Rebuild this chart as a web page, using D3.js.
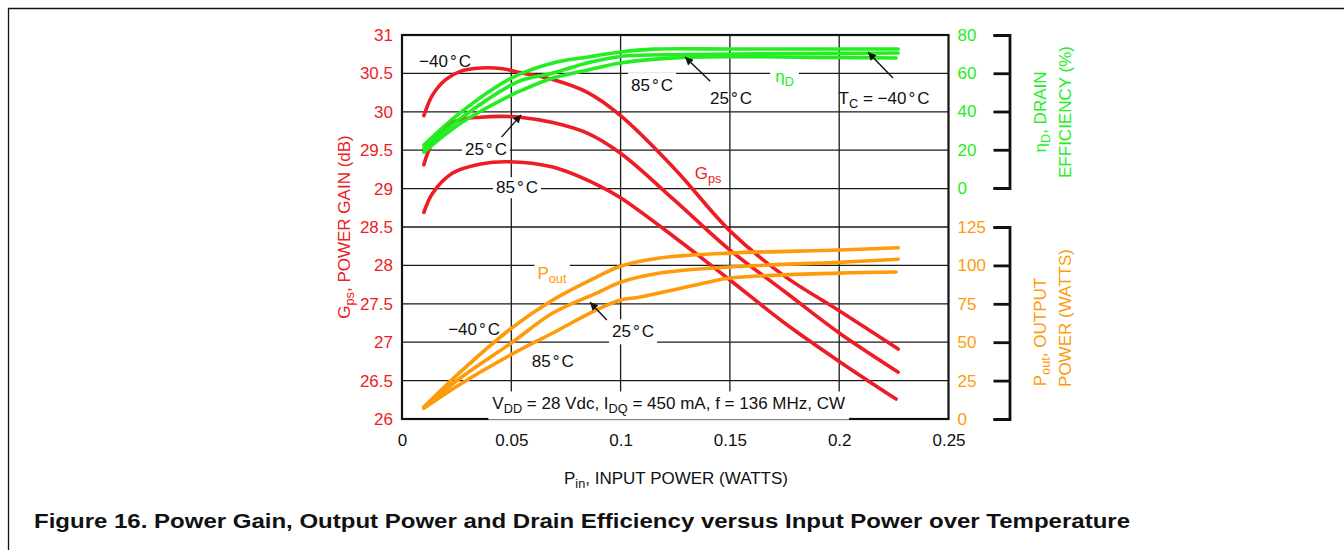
<!DOCTYPE html>
<html><head><meta charset="utf-8">
<script src="https://cdn.jsdelivr.net/npm/d3@7"></script>
<style>
html,body{margin:0;padding:0;background:#fff;}
svg{display:block;font-family:"Liberation Sans",Arial,Helvetica,sans-serif;}
</style></head>
<body><svg id="chart" width="1344" height="550"></svg>
<script>
// ---------- data ----------
const xTicks = [0, 0.05, 0.1, 0.15, 0.2, 0.25];
const xTickLabels = ["0", "0.05", "0.1", "0.15", "0.2", "0.25"];
const gainTicks = [26, 26.5, 27, 27.5, 28, 28.5, 29, 29.5, 30, 30.5, 31];
const gainTickLabels = ["26", "26.5", "27", "27.5", "28", "28.5", "29", "29.5", "30", "30.5", "31"];
const effTicks = [0, 20, 40, 60, 80];
const effTickLabels = ["0", "20", "40", "60", "80"];
const poutTicks = [0, 25, 50, 75, 100, 125];
const poutTickLabels = ["0", "25", "50", "75", "100", "125"];

// Power gain (dB) vs Pin (W)
const gainM40Pin = [0.01, 0.014, 0.02, 0.027, 0.036, 0.046, 0.054, 0.069, 0.085, 0.1, 0.125, 0.15, 0.175, 0.2, 0.227];
const gainM40 =    [29.95, 30.22, 30.42, 30.53, 30.57, 30.56, 30.51, 30.42, 30.25, 29.95, 29.25, 28.45, 27.86, 27.41, 26.91];
const gain25Pin =  [0.01, 0.013, 0.018, 0.027, 0.036, 0.045, 0.054, 0.069, 0.085, 0.1, 0.125, 0.15, 0.175, 0.2, 0.227];
const gain25 =     [29.31, 29.55, 29.77, 29.90, 29.93, 29.94, 29.93, 29.86, 29.72, 29.46, 28.84, 28.20, 27.66, 27.12, 26.61];
const gain85Pin =  [0.01, 0.014, 0.023, 0.036, 0.048, 0.069, 0.09, 0.1, 0.125, 0.15, 0.175, 0.2, 0.226];
const gain85 =     [28.69, 28.94, 29.20, 29.32, 29.35, 29.28, 29.04, 28.88, 28.36, 27.81, 27.25, 26.75, 26.26];

// Drain efficiency (%) vs Pin (W)
const effM40Pin = [0.01, 0.027, 0.05, 0.069, 0.085, 0.1, 0.115, 0.15, 0.2, 0.227];
const effM40 =    [22.5, 39.7, 57.5, 65.4, 68.5, 71.1, 72.6, 72.7, 72.7, 72.7];
const eff25Pin =  [0.01, 0.027, 0.05, 0.055, 0.069, 0.085, 0.1, 0.13, 0.2, 0.227];
const eff25 =     [20.9, 36.6, 53.9, 56.5, 60.1, 65.5, 68.8, 69.8, 70.4, 70.6];
const eff85Pin =  [0.01, 0.027, 0.05, 0.055, 0.069, 0.085, 0.1, 0.129, 0.2, 0.226];
const eff85 =     [18.8, 34.0, 48.6, 51.2, 57.5, 61.7, 65.4, 68.3, 68.2, 68.0];

// Output power (W) vs Pin (W)
const poutM40Pin = [0.01, 0.027, 0.05, 0.069, 0.089, 0.1, 0.118, 0.15, 0.2, 0.227];
const poutM40 =    [7.8, 31, 59, 77.5, 92.4, 99.5, 104.8, 108, 110, 111.5];
const pout25Pin =  [0.01, 0.027, 0.05, 0.069, 0.089, 0.1, 0.118, 0.15, 0.2, 0.227];
const pout25 =     [7.5, 27, 49.5, 69, 82, 89, 95, 99, 102, 104];
const pout85Pin =  [0.01, 0.027, 0.05, 0.069, 0.089, 0.1, 0.109, 0.14, 0.15, 0.2, 0.226];
const pout85 =     [7, 23, 42, 56, 71, 77.5, 79.4, 89, 91.8, 95, 95.7];

// ---------- styles ----------
const RED = "#ee1c24", GREEN = "#22ee22", ORANGE = "#ff9a0a", GRID = "#1a1a1a";

const svg = d3.select("#chart");
const x  = d3.scaleLinear([0, 0.25], [402, 948.5]);
const yG = d3.scaleLinear([26, 31], [419, 35]);
const yE = d3.scaleLinear([0, 80], [188, 35]);
const yP = d3.scaleLinear([0, 125], [419, 227]);

// page frame
svg.append("line").attr("x1", 8).attr("x2", 1344).attr("y1", 8.5).attr("y2", 8.5).attr("stroke", "#111").attr("stroke-width", 1.6);
svg.append("line").attr("x1", 8.5).attr("x2", 8.5).attr("y1", 8).attr("y2", 550).attr("stroke", "#111").attr("stroke-width", 1.3);

// gridlines
const grid = svg.append("g");
grid.selectAll("line.h").data(gainTicks.slice(1, -1)).join("line")
  .attr("x1", x(0)).attr("x2", x(0.25)).attr("y1", d => yG(d)).attr("y2", d => yG(d))
  .attr("stroke", GRID).attr("stroke-width", 1.3);
grid.selectAll("line.v").data(xTicks.slice(1, -1)).join("line")
  .attr("x1", d => x(d)).attr("x2", d => x(d)).attr("y1", yG(26)).attr("y2", yG(31))
  .attr("stroke", GRID).attr("stroke-width", 1.3);

// curves
const curves = svg.append("g").attr("fill", "none").attr("stroke-width", 3.6).attr("stroke-linecap", "round").attr("stroke-linejoin", "round");
function drawSeries(xs, ys, yScale, color) {
  const pts = xs.map((v, i) => [v, ys[i]]);
  curves.append("path").datum(pts)
    .attr("d", d3.line().x(d => x(d[0])).y(d => yScale(d[1])).curve(d3.curveCatmullRom.alpha(0.5)))
    .attr("stroke", color);
}
drawSeries(gainM40Pin, gainM40, yG, RED);
drawSeries(gain25Pin, gain25, yG, RED);
drawSeries(gain85Pin, gain85, yG, RED);
drawSeries(poutM40Pin, poutM40, yP, ORANGE);
drawSeries(pout25Pin, pout25, yP, ORANGE);
drawSeries(pout85Pin, pout85, yP, ORANGE);
drawSeries(eff85Pin, eff85, yE, GREEN);
drawSeries(eff25Pin, eff25, yE, GREEN);
drawSeries(effM40Pin, effM40, yE, GREEN);

// plot frame
svg.append("rect").attr("x", x(0)).attr("y", yG(31)).attr("width", x(0.25) - x(0)).attr("height", yG(26) - yG(31))
  .attr("fill", "none").attr("stroke", "#111").attr("stroke-width", 2.2);

// axes
const FS = 17;
function styleAxis(g, color) {
  g.select(".domain").remove();
  g.selectAll("text").attr("font-size", FS).attr("font-family", "Liberation Sans, Arial, sans-serif").attr("fill", color);
}
svg.append("g").attr("transform", `translate(${x(0)},0)`)
  .call(d3.axisLeft(yG).tickValues(gainTicks).tickFormat((d, i) => gainTickLabels[i]).tickSize(0).tickPadding(9))
  .call(g => styleAxis(g, RED));
svg.append("g").attr("transform", `translate(0,${yG(26)})`)
  .call(d3.axisBottom(x).tickValues(xTicks).tickFormat((d, i) => xTickLabels[i]).tickSize(0).tickPadding(15))
  .call(g => styleAxis(g, "#111"));
svg.append("g").attr("transform", `translate(${x(0.25)},0)`)
  .call(d3.axisRight(yE).tickValues(effTicks).tickFormat((d, i) => effTickLabels[i]).tickSize(0).tickPadding(9))
  .call(g => styleAxis(g, GREEN));
svg.append("g").attr("transform", `translate(${x(0.25)},0)`)
  .call(d3.axisRight(yP).tickValues(poutTicks).tickFormat((d, i) => poutTickLabels[i]).tickSize(0).tickPadding(9))
  .call(g => styleAxis(g, ORANGE));

// brackets on the right
function bracket(scale, ticks) {
  const g = svg.append("g").attr("transform", "translate(1009.5,0)")
    .call(d3.axisLeft(scale).tickValues(ticks).tickFormat("").tickSize(16).tickSizeOuter(16));
  g.selectAll("path,line").attr("stroke", "#111").attr("stroke-width", 2.8);
}
bracket(yE, effTicks);
bracket(yP, poutTicks);

// ---------- labels ----------
const labels = svg.append("g").attr("font-size", FS);
function label(px, py, parts, opt = {}) {
  const g = labels.append("g");
  const t = g.append("text").attr("x", px).attr("y", py)
    .attr("text-anchor", opt.anchor || "middle").attr("fill", opt.color || "#111")
    .attr("font-size", opt.size || FS);
  if (opt.rotate) t.attr("transform", `rotate(-90,${px},${py})`);
  let shift = 0;
  parts.forEach(p => {
    const ts = t.append("tspan").text(p.t);
    let dy = 0;
    if (p.sub) { ts.attr("font-size", (opt.size || FS) * 0.75); dy = 4 - shift; shift = 4; }
    else if (shift) { dy = -shift; shift = 0; }
    if (dy) ts.attr("dy", dy);
    if (p.dx) ts.attr("dx", p.dx);
  });
  if (opt.bg) {
    const b = t.node().getBBox();
    const pad = opt.pad || [3, 1];
    g.insert("rect", "text").attr("x", b.x - pad[0]).attr("y", b.y - pad[1])
      .attr("width", b.width + 2 * pad[0]).attr("height", b.height + 2 * pad[1]).attr("fill", "#fff");
  }
  return g;
}
const degC = s => [{t: s}, {t: "°", dx: 2}, {t: "C", dx: 2}];

// gain annotations
label(x(0.0197), yG(30.58), degC("−40"));
label(x(0.0384), yG(29.44), degC("25"), {bg: true});
label(x(0.0526), yG(28.94), degC("85"), {bg: true});
label(x(0.14), yG(29.12), [{t: "G"}, {t: "ps", sub: true}], {color: RED});

// efficiency annotations
label(x(0.1144), yE(50.5), degC("85"), {bg: true, pad: [3, 4]});
label(x(0.1505), yE(43.8), degC("25"));
label(x(0.175), yE(55.4), [{t: "η"}, {t: "D", sub: true}], {color: GREEN, bg: true, pad: [5, 1]});
label(x(0.2205), yE(44), [{t: "T"}, {t: "C", sub: true}, {t: " = −40"}, {t: "°", dx: 2}, {t: "C", dx: 2}]);

// output power annotations
label(x(0.0686), yP(91), [{t: "P"}, {t: "out", sub: true}], {color: ORANGE, bg: true, pad: [3, 2]});
label(x(0.033), yP(55), degC("−40"));
label(x(0.1057), yP(53.2), degC("25"), {bg: true, pad: [3, 3]});
label(x(0.069), yP(33.6), degC("85"));
label(x(0.122), yP(6.2), [{t: "V"}, {t: "DD", sub: true}, {t: " = 28 Vdc, I"}, {t: "DQ", sub: true}, {t: " = 450 mA, f = 136 MHz, CW"}], {bg: true, pad: [4, 3]});

// arrows
const defs = svg.append("defs");
defs.append("marker").attr("id", "ah").attr("viewBox", "0 0 10 10").attr("refX", 10).attr("refY", 5)
  .attr("markerWidth", 11).attr("markerHeight", 8).attr("markerUnits", "userSpaceOnUse").attr("orient", "auto")
  .append("path").attr("d", "M0,0L10,5L0,10z").attr("fill", "#111");
function arrow(x0, y0, x1, y1) {
  svg.append("line").attr("x1", x0).attr("y1", y0).attr("x2", x1).attr("y2", y1)
    .attr("stroke", "#111").attr("stroke-width", 1.4).attr("marker-end", "url(#ah)");
}
arrow(x(0.0455), yG(29.67), x(0.0545), yG(29.96));
arrow(x(0.141), yE(55.8), x(0.1295), yE(68.5));
arrow(x(0.2246), yE(57.5), x(0.2132), yE(71));
arrow(x(0.0937), yP(64.5), x(0.086), yP(76));

// axis titles
label(350, 227, [{t: "G"}, {t: "ps", sub: true}, {t: ", POWER GAIN (dB)"}], {color: RED, rotate: true});
label(676, 484, [{t: "P"}, {t: "in", sub: true}, {t: ", INPUT POWER (WATTS)"}]);
label(1046, 112, [{t: "η"}, {t: "D", sub: true}, {t: ", DRAIN"}], {color: GREEN, rotate: true});
label(1071, 112, [{t: "EFFICIENCY (%)"}], {color: GREEN, rotate: true});
label(1046, 332, [{t: "P"}, {t: "out", sub: true}, {t: ", OUTPUT"}], {color: ORANGE, rotate: true});
label(1071, 318, [{t: "POWER (WATTS)"}], {color: ORANGE, rotate: true});

// caption
svg.append("text").attr("x", 34).attr("y", 528).attr("font-size", 19.5).attr("font-weight", "bold").attr("fill", "#111")
  .attr("textLength", 1096).attr("lengthAdjust", "spacingAndGlyphs")
  .text("Figure 16. Power Gain, Output Power and Drain Efficiency versus Input Power over Temperature");
</script></body></html>
